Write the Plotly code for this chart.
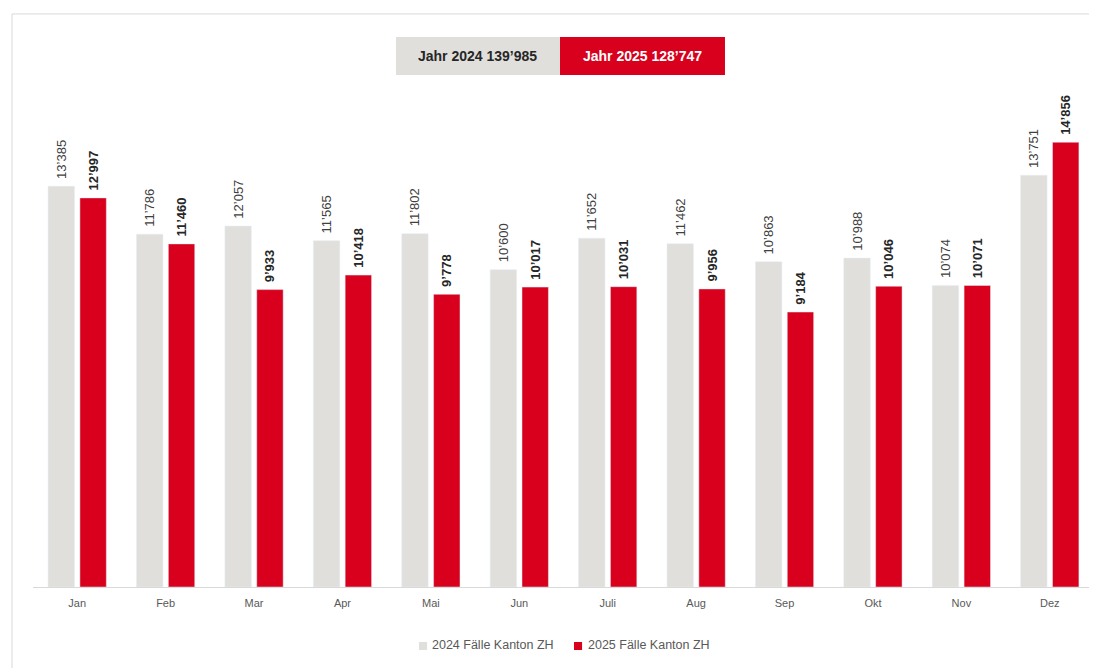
import plotly.graph_objects as go

months = ["Jan", "Feb", "Mar", "Apr", "Mai", "Jun", "Juli", "Aug", "Sep", "Okt", "Nov", "Dez"]
vals_2024 = [13385, 11786, 12057, 11565, 11802, 10600, 11652, 11462, 10863, 10988, 10074, 13751]
vals_2025 = [12997, 11460, 9933, 10418, 9778, 10017, 10031, 9956, 9184, 10046, 10071, 14856]
series_names = ["2024 Fälle Kanton ZH", "2025 Fälle Kanton ZH"]
total_labels = ["Jahr 2024 139’985", "Jahr 2025 128’747"]

GREY = "#E0DFDC"
RED = "#D8001C"
FONT = "Liberation Sans, Arial, sans-serif"
NARROW = "Liberation Sans Narrow, Liberation Sans, Arial, sans-serif"
PAD = "\u2004"


def fmt(v):
    return f"{v:,}".replace(",", "’")


fig = go.Figure()
fig.add_trace(go.Bar(
    x=months, y=vals_2024, name=series_names[0], marker_color=GREY,
    text=[PAD + fmt(v) for v in vals_2024], textposition="outside", textangle=-90,
    constraintext="none",
    outsidetextfont=dict(family=FONT, size=13, color="#404040"),
    cliponaxis=False, showlegend=False,
))
fig.add_trace(go.Bar(
    x=months, y=vals_2025, name=series_names[1], marker_color=RED,
    text=[PAD + f"<b>{fmt(v)}</b>" for v in vals_2025], textposition="outside", textangle=-90,
    constraintext="none",
    outsidetextfont=dict(family=FONT, size=13, color="#262626"),
    cliponaxis=False, showlegend=False,
))

# frame lines (paper coordinates)
fig.add_shape(type="line", xref="paper", yref="paper", x0=-0.0198, x1=1.1, y0=1.16, y1=1.16,
              line=dict(color="#D9D9D9", width=1))
fig.add_shape(type="line", xref="paper", yref="paper", x0=-0.0198, x1=-0.0198, y0=1.16, y1=-0.3,
              line=dict(color="#D9D9D9", width=1))

# header boxes
fig.add_shape(type="rect", xref="paper", yref="paper", x0=0.3421, x1=0.4967, y0=1.0364, y1=1.1134,
              fillcolor=GREY, line=dict(width=0), layer="below")
fig.add_shape(type="rect", xref="paper", yref="paper", x0=0.4967, x1=0.6522, y0=1.0364, y1=1.1134,
              fillcolor=RED, line=dict(width=0), layer="below")
fig.add_annotation(xref="paper", yref="paper", x=0.4194, y=1.0749, xanchor="center", yanchor="middle",
                   text=f"<b>{total_labels[0]}</b>", showarrow=False,
                   font=dict(family=FONT, size=14, color="#262626"))
fig.add_annotation(xref="paper", yref="paper", x=0.5745, y=1.0749, xanchor="center", yanchor="middle",
                   text=f"<b>{total_labels[1]}</b>", showarrow=False,
                   font=dict(family=FONT, size=14, color="#FFFFFF"))

# legend (manual, compact)
legend_items = [(0.3638, 0.3714, 0.3742, GREY, series_names[0]),
                (0.5099, 0.5175, 0.5212, RED, series_names[1])]
for x0, x1, xt, col, name in legend_items:
    fig.add_shape(type="rect", xref="paper", yref="paper", x0=x0, x1=x1, y0=-0.1275, y1=-0.1113,
                  fillcolor=col, line=dict(width=0))
    fig.add_annotation(xref="paper", yref="paper", x=xt, y=-0.1174, xanchor="left", yanchor="middle",
                       text=name, showarrow=False,
                       font=dict(family=NARROW, size=12.5, color="#595959"))

fig.update_layout(
    width=1097, height=668,
    margin=dict(l=25, r=11, t=85, b=89),
    paper_bgcolor="white", plot_bgcolor="white",
    barmode="group", bargap=0.28, bargroupgap=0.17,
    showlegend=False,
    xaxis=dict(showline=True, linecolor="#D9D9D9", linewidth=1, ticks="", showgrid=False,
               ticklabelstandoff=6,
               tickfont=dict(family=NARROW, size=11, color="#595959")),
    yaxis=dict(range=[0, 16500], visible=False, showgrid=False),
)

fig.write_html("out.html")
